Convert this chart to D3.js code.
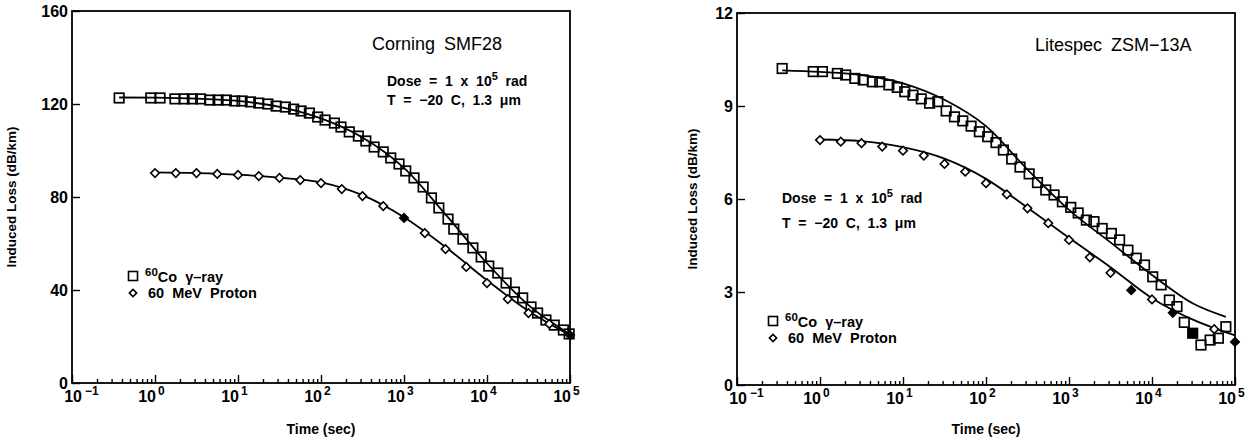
<!DOCTYPE html>
<html>
<head>
<meta charset="utf-8">
<script src="https://cdn.jsdelivr.net/npm/d3@7"></script>
<style>
body { margin: 0; background: #fff; }
svg { display: block; font-family: "Liberation Sans", Arial, sans-serif; }
</style>
</head>
<body>
<svg id="chart" width="1252" height="445"></svg>
<script>
// axis ticks
const timeTicks = [1e-1, 1, 1e1, 1e2, 1e3, 1e4, 1e5];
const timeExp = ["\u22121", "0", "1", "2", "3", "4", "5"];
const smfYTicks = [0, 40, 80, 120, 160];
const zsmYTicks = [0, 3, 6, 9, 12];

// Corning SMF28 - Co60 gamma (squares)
const smfGammaTime = [0.37, 0.89, 1.15, 1.74, 2.24, 2.82, 3.55, 4.57, 5.75, 7.24, 9.12, 11.2, 14.1, 17.8, 22.9,
    28.8, 37.2, 46.8, 57.5, 72.4, 91.2, 112, 145, 174, 219, 282, 347, 437, 562, 692, 871, 1050, 1320, 1700,
    2140, 2630, 3390, 3980, 5130, 6760, 8510, 10500, 13500, 17000, 21400, 26900, 33900, 40700, 51300,
    64600, 83200, 97700];
const smfGammaLoss = [122.6, 122.6, 122.6, 122.2, 122.2, 122.2, 122.2, 121.7, 121.7, 121.7, 121.3, 121.3, 120.9,
    120.4, 120.0, 119.1, 118.7, 117.8, 117.0, 116.1, 114.4, 113.1, 111.8, 110.1, 108.0, 106.2, 104.1, 101.5,
    99.4, 96.8, 94.2, 91.2, 88.2, 84.3, 79.6, 75.3, 70.5, 66.2, 61.9, 58.1, 54.2, 50.3, 47.3, 43.0, 39.1,
    36.6, 32.7, 30.1, 27.1, 24.9, 22.8, 21.1];
// Corning SMF28 - 60 MeV proton (diamonds)
const smfProtonTime = [1, 1.78, 3.16, 5.62, 10, 17.8, 31.6, 56.2, 100, 178, 316, 562, 1000, 1780, 3160, 5620,
    10000, 17800, 31600, 56200, 100000];
const smfProtonLoss = [90.3, 90.3, 90.3, 89.9, 89.5, 89.0, 88.2, 87.3, 86.0, 83.4, 80.4, 76.1, 71.0, 64.5, 57.6,
    49.9, 43.0, 36.1, 30.1, 25.4, 20.6];
const smfProtonFilled = [1000, 100000];
// Corning SMF28 - fitted curves
const smfGammaFitTime = [0.37, 1, 3.16, 10, 31.6, 100, 316, 1000, 3160, 10000, 31600, 100000];
const smfGammaFitLoss = [122.8, 122.7, 122.3, 121.3, 118.8, 113.8, 105.6, 92.5, 72.5, 51.5, 33.5, 21];
const smfProtonFitTime = [1, 3.16, 10, 31.6, 100, 316, 1000, 3160, 10000, 31600, 100000];
const smfProtonFitLoss = [90.6, 90.3, 89.6, 88.3, 86.3, 80.8, 71.3, 58.5, 44.2, 31, 20.6];

// Litespec ZSM-13A - Co60 gamma (squares)
const zsmGammaTime = [0.35, 0.83, 1.07, 1.62, 2.04, 2.63, 3.31, 4.27, 5.25, 6.76, 8.51, 10.5, 13.2, 16.6, 20.9,
    26.3, 33.1, 41.7, 52.5, 66.1, 83.2, 105, 132, 162, 204, 257, 331, 417, 525, 661, 832, 1050, 1290, 1620,
    2000, 2510, 3240, 4070, 5130, 6460, 8130, 10200, 12900, 16200, 20000, 24500, 30900, 38900, 50100,
    63100, 77600];
const zsmGammaLoss = [10.21, 10.11, 10.11, 10.05, 10.0, 9.89, 9.84, 9.78, 9.78, 9.68, 9.6, 9.46, 9.35, 9.23, 9.09,
    9.14, 8.84, 8.65, 8.52, 8.35, 8.17, 8.01, 7.82, 7.58, 7.29, 7.03, 6.81, 6.53, 6.29, 6.13, 5.91, 5.73, 5.55,
    5.32, 5.27, 5.05, 4.89, 4.68, 4.35, 4.09, 3.87, 3.49, 3.23, 2.74, 2.53, 2.02, 1.67, 1.29, 1.45, 1.51, 1.88];
const zsmGammaFilled = [30900];
// Litespec ZSM-13A - 60 MeV proton (diamonds)
const zsmProtonTime = [1, 1.78, 3.16, 5.62, 10, 17.8, 31.6, 56.2, 100, 178, 316, 562, 1000, 1780, 3160, 5620,
    10000, 17800, 56200, 100000];
const zsmProtonLoss = [7.90, 7.85, 7.80, 7.69, 7.56, 7.40, 7.13, 6.88, 6.51, 6.15, 5.70, 5.22, 4.68, 4.12, 3.62,
    3.06, 2.76, 2.33, 1.80, 1.39];
const zsmProtonFilled = [5620, 17800, 100000];
// Litespec ZSM-13A - fitted curves
const zsmGammaFitTime = [0.35, 1, 3.16, 10, 31.6, 100, 316, 1000, 3160, 10000, 31600, 77600];
const zsmGammaFitLoss = [10.15, 10.1, 10.0, 9.73, 9.2, 8.35, 6.95, 5.65, 4.6, 3.55, 2.62, 2.2];
const zsmProtonFitTime = [1, 3.16, 10, 31.6, 100, 316, 1000, 3160, 10000, 31600, 100000];
const zsmProtonFitLoss = [7.92, 7.87, 7.67, 7.3, 6.65, 5.72, 4.75, 3.8, 2.8, 2.1, 1.6];

const svg = d3.select("#chart");

/** text made of plain and superscript pieces */
const richText = (g, x, y, parts, size, weight) => {
    const t = g.append("text")
        .attr("x", x).attr("y", y)
        .style("font-size", size + "px")
        .style("font-weight", weight)
        .style("white-space", "pre");
    let up = false;
    parts.forEach(([s, sup]) => {
        const span = t.append("tspan").text(s);
        if (sup && !up) span.attr("dy", -6).style("font-size", (size - 3) + "px");
        if (!sup && up) span.attr("dy", 6);
        up = !!sup;
    });
    return t;
};

const isMajor = t => Math.abs(Math.log10(t) - Math.round(Math.log10(t))) < 1e-9;

const drawPanel = p => {
    const g = svg.append("g");
    const x = d3.scaleLog().domain([0.1, 1e5]).range([p.left, p.right]);
    const y = d3.scaleLinear().domain([0, p.yMax]).range([p.bottom, p.top]);

    // frame
    g.append("rect")
        .attr("x", p.left).attr("y", p.top)
        .attr("width", p.right - p.left).attr("height", p.bottom - p.top)
        .attr("fill", "none").attr("stroke", "#000").attr("stroke-width", 1.8);

    // x ticks, pointing inward
    const minor = x.ticks().filter(t => !isMajor(t));
    [[minor, -4], [timeTicks, -8]].forEach(([vals, size]) => {
        g.append("g")
            .attr("transform", `translate(0,${p.bottom})`)
            .call(d3.axisBottom(x).tickValues(vals).tickSize(size).tickFormat(""))
            .call(a => a.select(".domain").remove())
            .call(a => a.selectAll("line").attr("stroke-width", 1.4));
    });
    g.selectAll("text.xbase").data(timeTicks).join("text")
        .attr("class", "xbase")
        .attr("x", (d, i) => x(d) + (i === 0 ? 10 : 1))
        .attr("y", p.bottom + 19)
        .attr("text-anchor", "end")
        .style("font-size", "16px").style("font-weight", "bold")
        .text("10");
    g.selectAll("text.xexp").data(timeTicks).join("text")
        .attr("class", "xexp")
        .attr("x", (d, i) => x(d) + (i === 0 ? 13 : 3))
        .attr("y", p.bottom + 12)
        .style("font-size", "12px").style("font-weight", "bold")
        .text((d, i) => timeExp[i]);

    // y axis
    g.append("g")
        .attr("transform", `translate(${p.left},0)`)
        .call(d3.axisLeft(y).tickValues(p.yTicks).tickSize(-8).tickPadding(4))
        .attr("font-family", null).attr("font-size", null)
        .call(a => a.select(".domain").remove())
        .call(a => a.selectAll("line").attr("stroke-width", 1.4))
        .call(a => a.selectAll("text").style("font-size", "16px").style("font-weight", "bold"));

    // axis titles
    g.append("text")
        .attr("x", (p.left + p.right) / 2).attr("y", 434)
        .attr("text-anchor", "middle")
        .style("font-size", "14px").style("font-weight", "bold")
        .text("Time (sec)");
    g.append("text")
        .attr("transform", `translate(${p.ytitleX},${(p.top + p.bottom) / 2}) rotate(-90)`)
        .attr("text-anchor", "middle")
        .style("font-size", "13.5px").style("font-weight", "bold")
        .text("Induced Loss (dB/km)");

    // fitted curves
    const line = d3.line().x(d => x(d[0])).y(d => y(d[1])).curve(d3.curveMonotoneX);
    [p.gammaFit, p.protonFit].forEach(([ts, vs]) => {
        g.append("path")
            .datum(d3.zip(ts, vs))
            .attr("d", line)
            .attr("fill", "none").attr("stroke", "#000").attr("stroke-width", 1.8);
    });

    // measured points
    const sq = 9.5;
    g.selectAll("rect.gamma").data(d3.zip(p.gamma[0], p.gamma[1])).join("rect")
        .attr("class", "gamma")
        .attr("x", d => x(d[0]) - sq / 2).attr("y", d => y(d[1]) - sq / 2)
        .attr("width", sq).attr("height", sq)
        .attr("fill", d => p.gammaFilled.includes(d[0]) ? "#000" : "none")
        .attr("stroke", "#000").attr("stroke-width", 1.7);
    const diamond = d3.symbol(d3.symbolSquare, 36);
    g.selectAll("path.proton").data(d3.zip(p.proton[0], p.proton[1])).join("path")
        .attr("class", "proton")
        .attr("d", diamond)
        .attr("transform", d => `translate(${x(d[0])},${y(d[1])}) rotate(45)`)
        .attr("fill", d => p.protonFilled.includes(d[0]) ? "#000" : "#fff")
        .attr("stroke", "#000").attr("stroke-width", 1.6);

    // labels
    g.append("text")
        .attr("x", p.name.x).attr("y", p.name.y)
        .style("font-size", "18px").style("word-spacing", "4px")
        .text(p.name.text);
    richText(g, p.dose.x, p.dose.y, [["Dose  =  1  x  10"], ["5", true], ["  rad"]], 14, "bold");
    richText(g, p.dose.x, p.dose.y + p.dose.gap, [["T  =  \u221220  C,  1.3  \u03bcm"]], 14, "bold");

    // legend
    const lg = p.legend;
    g.append("rect")
        .attr("x", lg.x - 4.5).attr("y", lg.y - 4.5).attr("width", 9).attr("height", 9)
        .attr("fill", "none").attr("stroke", "#000").attr("stroke-width", 1.6);
    g.append("path")
        .attr("d", d3.symbol(d3.symbolSquare, 26))
        .attr("transform", `translate(${lg.x},${lg.y + 17}) rotate(45)`)
        .attr("fill", "#fff").attr("stroke", "#000").attr("stroke-width", 1.6);
    richText(g, lg.x + 12, lg.y + 6, [["60", true], ["Co  \u03b3\u2013ray"]], 14.5, "bold");
    richText(g, lg.x + 15, lg.y + 22, [["60  MeV  Proton"]], 14.5, "bold");
};

drawPanel({
    left: 72, right: 570, top: 11, bottom: 383, yMax: 160, yTicks: smfYTicks, ytitleX: 16,
    gamma: [smfGammaTime, smfGammaLoss], gammaFilled: [],
    proton: [smfProtonTime, smfProtonLoss], protonFilled: smfProtonFilled,
    gammaFit: [smfGammaFitTime, smfGammaFitLoss], protonFit: [smfProtonFitTime, smfProtonFitLoss],
    name: {text: "Corning SMF28", x: 372, y: 50},
    dose: {x: 387, y: 86, gap: 19},
    legend: {x: 133, y: 276}
});
drawPanel({
    left: 737, right: 1235, top: 13, bottom: 385, yMax: 12, yTicks: zsmYTicks, ytitleX: 697,
    gamma: [zsmGammaTime, zsmGammaLoss], gammaFilled: zsmGammaFilled,
    proton: [zsmProtonTime, zsmProtonLoss], protonFilled: zsmProtonFilled,
    gammaFit: [zsmGammaFitTime, zsmGammaFitLoss], protonFit: [zsmProtonFitTime, zsmProtonFitLoss],
    name: {text: "Litespec ZSM\u221213A", x: 1035, y: 51},
    dose: {x: 782, y: 203, gap: 25},
    legend: {x: 773, y: 321}
});
</script>
</body>
</html>
